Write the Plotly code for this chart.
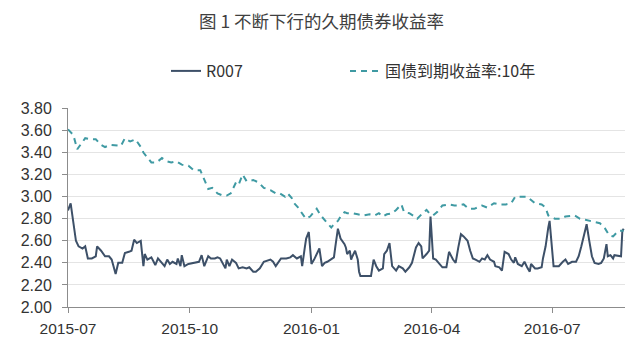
import plotly.graph_objects as go

title_text = "图 1 不断下行的久期债券收益率"
name_r007 = "R007"
name_10y = "国债到期收益率:10年"

r007_dates = [
    "2015-07-01","2015-07-03","2015-07-07","2015-07-09","2015-07-12","2015-07-14","2015-07-16","2015-07-19",
    "2015-07-22","2015-07-23","2015-07-26","2015-07-28","2015-07-29","2015-08-01","2015-08-03","2015-08-06",
    "2015-08-08","2015-08-11","2015-08-13","2015-08-16","2015-08-18","2015-08-20","2015-08-22","2015-08-25",
    "2015-08-27","2015-08-28","2015-08-30","2015-09-02","2015-09-05","2015-09-07","2015-09-10","2015-09-12",
    "2015-09-14","2015-09-16","2015-09-18","2015-09-21","2015-09-22","2015-09-24","2015-09-25","2015-09-27",
    "2015-09-30","2015-10-04","2015-10-08","2015-10-10","2015-10-12","2015-10-15","2015-10-17","2015-10-20",
    "2015-10-22","2015-10-24","2015-10-27","2015-10-28","2015-10-29","2015-10-31","2015-11-02","2015-11-05",
    "2015-11-07","2015-11-10","2015-11-13","2015-11-15","2015-11-18","2015-11-20","2015-11-23","2015-11-26",
    "2015-12-01","2015-12-03","2015-12-05","2015-12-07","2015-12-09","2015-12-13","2015-12-16","2015-12-18",
    "2015-12-21","2015-12-24","2015-12-25","2015-12-27","2015-12-28","2015-12-30","2016-01-01","2016-01-03",
    "2016-01-05","2016-01-07","2016-01-09","2016-01-11","2016-01-13","2016-01-16","2016-01-18","2016-01-19",
    "2016-01-21","2016-01-23","2016-01-26","2016-01-27","2016-01-28","2016-01-30","2016-01-31","2016-02-01",
    "2016-02-02","2016-02-03","2016-02-05","2016-02-06","2016-02-07","2016-02-11","2016-02-15","2016-02-17",
    "2016-02-19","2016-02-21","2016-02-24","2016-02-25","2016-02-27","2016-02-29","2016-03-02","2016-03-05",
    "2016-03-07","2016-03-10","2016-03-12","2016-03-15","2016-03-17","2016-03-20","2016-03-22","2016-03-24",
    "2016-03-25","2016-03-28","2016-03-30","2016-03-31","2016-04-02","2016-04-04","2016-04-07","2016-04-09",
    "2016-04-12","2016-04-14","2016-04-17","2016-04-19","2016-04-21","2016-04-23","2016-04-25","2016-04-28",
    "2016-04-30","2016-05-02","2016-05-04","2016-05-07","2016-05-09","2016-05-11","2016-05-13","2016-05-15",
    "2016-05-18","2016-05-19","2016-05-22","2016-05-24","2016-05-26","2016-05-29","2016-05-31","2016-06-02",
    "2016-06-03","2016-06-05","2016-06-08","2016-06-10","2016-06-12","2016-06-14","2016-06-15","2016-06-18",
    "2016-06-20","2016-06-23","2016-06-24","2016-06-26","2016-06-28","2016-06-29","2016-07-02","2016-07-03",
    "2016-07-06","2016-07-09","2016-07-11","2016-07-13","2016-07-16","2016-07-19","2016-07-21","2016-07-23",
    "2016-07-25","2016-07-27","2016-07-29","2016-07-31","2016-08-02","2016-08-05","2016-08-07","2016-08-09",
    "2016-08-11","2016-08-12","2016-08-14","2016-08-16","2016-08-17","2016-08-20","2016-08-22","2016-08-23",
    "2016-08-24",
]
r007_values = [
    2.875,2.94,2.60,2.55,2.53,2.55,2.44,2.44,
    2.46,2.55,2.51,2.48,2.46,2.46,2.43,2.30,
    2.40,2.40,2.49,2.50,2.51,2.61,2.58,2.60,
    2.37,2.48,2.43,2.45,2.38,2.44,2.40,2.37,
    2.43,2.39,2.41,2.39,2.44,2.37,2.47,2.37,
    2.39,2.40,2.41,2.47,2.37,2.46,2.44,2.44,
    2.45,2.44,2.37,2.35,2.43,2.37,2.43,2.40,
    2.35,2.36,2.35,2.36,2.32,2.32,2.35,2.41,
    2.43,2.41,2.37,2.40,2.44,2.44,2.45,2.47,
    2.44,2.46,2.37,2.54,2.62,2.68,2.39,2.43,
    2.48,2.53,2.37,2.40,2.41,2.43,2.45,2.54,
    2.71,2.62,2.57,2.54,2.48,2.51,2.43,2.46,
    2.48,2.51,2.43,2.32,2.28,2.28,2.28,2.43,
    2.37,2.33,2.35,2.48,2.51,2.58,2.37,2.33,
    2.37,2.35,2.32,2.36,2.40,2.54,2.58,2.55,
    2.44,2.48,2.51,2.82,2.44,2.43,2.39,2.36,
    2.36,2.50,2.43,2.40,2.54,2.66,2.64,2.60,
    2.51,2.44,2.43,2.41,2.44,2.43,2.47,2.43,
    2.41,2.37,2.36,2.33,2.50,2.48,2.43,2.40,
    2.45,2.39,2.37,2.41,2.36,2.32,2.39,2.35,
    2.35,2.36,2.44,2.55,2.72,2.78,2.37,2.37,
    2.37,2.41,2.43,2.39,2.41,2.41,2.46,2.55,
    2.65,2.75,2.60,2.46,2.40,2.39,2.40,2.44,
    2.57,2.46,2.47,2.44,2.47,2.46,2.46,2.69,
    2.71,
]

y10_dates = [
    "2015-07-01","2015-07-05","2015-07-08","2015-07-14","2015-07-18","2015-07-22","2015-07-26","2015-07-29",
    "2015-08-02","2015-08-07","2015-08-10","2015-08-13","2015-08-17","2015-08-21","2015-08-25","2015-08-27",
    "2015-09-02","2015-09-06","2015-09-10","2015-09-14","2015-09-17","2015-09-21","2015-09-25","2015-09-30",
    "2015-10-04","2015-10-09","2015-10-11","2015-10-15","2015-10-18","2015-10-22","2015-10-26","2015-10-29",
    "2015-11-01","2015-11-05","2015-11-07","2015-11-10","2015-11-13","2015-11-18","2015-11-22","2015-11-26",
    "2015-12-01","2015-12-05","2015-12-08","2015-12-12","2015-12-14","2015-12-17","2015-12-19","2015-12-22",
    "2015-12-26","2015-12-28","2015-12-31","2016-01-03","2016-01-05","2016-01-08","2016-01-11","2016-01-13",
    "2016-01-16","2016-01-18","2016-01-21","2016-01-23","2016-01-26","2016-01-28","2016-02-01","2016-02-05",
    "2016-02-09","2016-02-14","2016-02-18","2016-02-21","2016-02-24","2016-02-27","2016-03-02","2016-03-05",
    "2016-03-09","2016-03-11","2016-03-15","2016-03-19","2016-03-21","2016-03-25","2016-03-28","2016-03-30",
    "2016-04-02","2016-04-05","2016-04-09","2016-04-14","2016-04-18","2016-04-21","2016-04-25","2016-04-29",
    "2016-05-03","2016-05-09","2016-05-13","2016-05-18","2016-05-22","2016-05-27","2016-05-31","2016-06-03",
    "2016-06-07","2016-06-12","2016-06-15","2016-06-18","2016-06-23","2016-06-26","2016-06-28","2016-07-03",
    "2016-07-07","2016-07-11","2016-07-18","2016-07-22","2016-07-26","2016-07-30","2016-08-02","2016-08-06",
    "2016-08-10","2016-08-13","2016-08-16","2016-08-20","2016-08-24",
]
y10_values = [
    3.61,3.56,3.43,3.53,3.52,3.52,3.47,3.45,
    3.47,3.46,3.46,3.53,3.50,3.52,3.45,3.40,
    3.31,3.31,3.35,3.32,3.31,3.32,3.29,3.28,
    3.24,3.24,3.18,3.07,3.08,3.03,3.01,3.01,
    3.03,3.13,3.11,3.20,3.14,3.15,3.13,3.08,
    3.06,3.03,3.03,3.00,3.03,2.99,2.94,2.90,
    2.83,2.80,2.82,2.86,2.89,2.83,2.79,2.76,
    2.72,2.75,2.78,2.82,2.86,2.85,2.85,2.84,
    2.83,2.84,2.83,2.85,2.82,2.84,2.85,2.88,
    2.93,2.86,2.85,2.82,2.80,2.85,2.88,2.85,
    2.83,2.86,2.92,2.93,2.92,2.92,2.93,2.89,
    2.89,2.92,2.90,2.94,2.93,2.93,2.94,3.00,
    3.00,3.00,2.97,2.94,2.93,2.90,2.83,2.80,
    2.80,2.82,2.83,2.80,2.79,2.78,2.77,2.76,
    2.71,2.65,2.64,2.69,2.69,
]

x_range = ["2015-07-01", "2016-08-25"]
x_tickvals = ["2015-07-01", "2015-10-01", "2016-01-01", "2016-04-01", "2016-07-01"]
x_ticktext = ["2015-07", "2015-10", "2016-01", "2016-04", "2016-07"]
y_range = [2.0, 3.8]
y_dtick = 0.2

fig = go.Figure()
fig.add_trace(go.Scatter(
    x=r007_dates, y=r007_values, mode="lines", name=name_r007, legend="legend",
    line=dict(color="#3d5068", width=2),
))
fig.add_trace(go.Scatter(
    x=y10_dates, y=y10_values, mode="lines", name=name_10y, legend="legend2",
    line=dict(color="#3f9aa3", width=2, dash="6px,5px"),
))

x_font = dict(family="Liberation Sans, Arial, sans-serif", size=15.5, color="#333333")
y_font = dict(family="Liberation Sans, Arial, sans-serif", size=16, color="#333333")
legend_font = dict(family="Noto Sans CJK SC, sans-serif", size=16, color="#333333")
legend_y = 1 - 71 / 353
fig.update_layout(
    width=643, height=353,
    margin=dict(l=68, r=18, t=92, b=46),
    paper_bgcolor="white", plot_bgcolor="white",
    title=dict(text=title_text, x=0.5, xref="container", xanchor="center",
               y=1 - 22 / 353, yref="container", yanchor="middle",
               font=dict(family="Noto Sans CJK SC, sans-serif", size=17.5, color="#404040")),
    legend=dict(orientation="h", xref="container", yref="container",
                x=166 / 643, xanchor="left", y=legend_y, yanchor="middle",
                font=legend_font, bgcolor="rgba(0,0,0,0)"),
    legend2=dict(orientation="h", xref="container", yref="container",
                 x=345 / 643, xanchor="left", y=legend_y, yanchor="middle",
                 font=legend_font, bgcolor="rgba(0,0,0,0)"),
    showlegend=True,
)
fig.update_xaxes(
    type="date", range=x_range, tickmode="array", tickvals=x_tickvals, ticktext=x_ticktext,
    showgrid=False, showline=True, linecolor="#8c8c8c", linewidth=1,
    ticks="outside", ticklen=5, tickcolor="#8c8c8c", tickfont=x_font,
    ticklabelstandoff=2, zeroline=False,
)
fig.update_yaxes(
    range=y_range, dtick=y_dtick, tick0=2.0, tickformat=".2f",
    showgrid=True, gridcolor="#e4e4e4", gridwidth=1,
    showline=True, linecolor="#8c8c8c", linewidth=1,
    ticks="outside", ticklen=5, tickcolor="#8c8c8c", tickfont=y_font,
    ticklabelstandoff=7, zeroline=False,
)

fig.write_html("out.html")
